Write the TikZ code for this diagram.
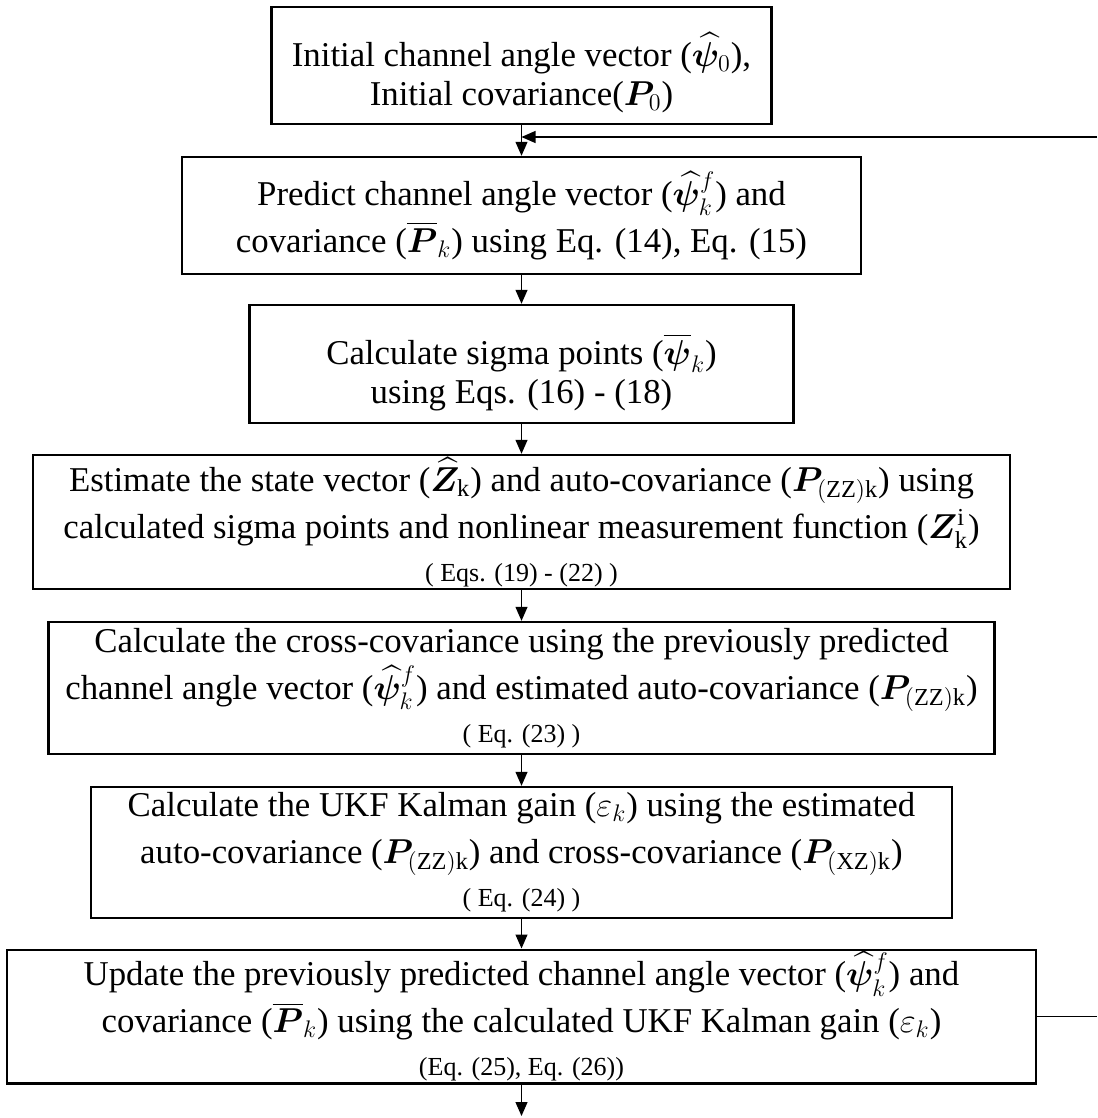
\documentclass[tikz,border=0pt]{standalone}
\usepackage{amsmath}
\usepackage{bm}
\usepackage{fontspec}
\setmainfont{Liberation Serif}
\usetikzlibrary{arrows.meta}

\newcommand{\eqnote}[1]{{\fontsize{13}{15}\selectfont #1}}

\begin{document}
\begin{tikzpicture}[x=0.5pt,y=-0.5pt,
  box/.style={draw,line width=1.2pt,align=center,inner ysep=1pt,font=\fontsize{17.4}{23.5}\selectfont},
  tight/.style={font=\fontsize{17.4}{19.5}\selectfont},
  arj/.style={line width=0.6pt,-{Triangle[length=7pt,width=6pt]}}]
  \useasboundingbox (0,0) rectangle (1097,1118);

  \node(initial)[box,tight,minimum width=250pt,minimum height=58.5pt] at (521.5,65.5)
    {\rule{0pt}{24.5pt}Initial channel angle vector ($\widehat{\bm{\psi}}_0$),\\Initial covariance($\bm{P}_0$)};
  \node(predict)[box,minimum width=339.5pt,minimum height=58.5pt] at (521.5,215.5)
    {Predict channel angle vector ($\widehat{\bm{\psi}}_k^f$) and\\covariance ($\overline{\bm{P}}_k$) using Eq. (14), Eq. (15)};
  \node(sigma)[box,tight,minimum width=272pt,minimum height=59pt] at (521.5,364)
    {\rule{0pt}{23.5pt}Calculate sigma points ($\overline{\bm{\psi}}_k$)\\using Eqs. (16) - (18)};
  \node(state)[box,minimum width=488.5pt,minimum height=67pt] at (521.5,522)
    {Estimate the state vector ($\widehat{\bm{Z}}_\mathrm{k}$) and auto-covariance ($\bm{P}_{\mathrm{(ZZ)k}}$) using\\
     calculated sigma points and nonlinear measurement function ($\bm{Z}_\mathrm{k}^\mathrm{i}$)\\[-2pt]
     \eqnote{( Eqs. (19) - (22) )}};
  \node(cross)[box,minimum width=473pt,minimum height=66pt] at (521.5,688)
    {Calculate the cross-covariance using the previously predicted\\
     channel angle vector ($\widehat{\bm{\psi}}_k^f$) and estimated auto-covariance ($\bm{P}_{\mathrm{(ZZ)k}}$)\\[-2pt]
     \eqnote{( Eq. (23) )}};
  \node(gain)[box,minimum width=430.5pt,minimum height=65.5pt] at (521.5,852.5)
    {Calculate the UKF Kalman gain ($\varepsilon_k$) using the estimated\\
     auto-covariance ($\bm{P}_{\mathrm{(ZZ)k}}$) and cross-covariance ($\bm{P}_{\mathrm{(XZ)k}}$)\\[-2pt]
     \eqnote{( Eq. (24) )}};
  \node(update)[box,minimum width=514.5pt,minimum height=65.5pt] at (521.5,1016.5)
    {Update the previously predicted channel angle vector ($\widehat{\bm{\psi}}_k^f$) and\\
     covariance ($\overline{\bm{P}}_k$) using the calculated UKF Kalman gain ($\varepsilon_k$)\\[-2pt]
     \eqnote{(Eq. (25), Eq. (26))}};

  \coordinate (loop in) at (1097,137);
  \coordinate (next) at (521.5,1116);

  \draw[arj] (initial) -- (predict);
  \draw[arj] (predict) -- (sigma);
  \draw[arj] (sigma) -- (state);
  \draw[arj] (state) -- (cross);
  \draw[arj] (cross) -- (gain);
  \draw[arj] (gain) -- (update);
  \draw[arj] (update) -- (next);

  % feedback to the next step
  \draw[line width=0.6pt] (update.east) -- (update.east -| loop in);
  \draw[arj] (loop in) -- (loop in -| initial.south);
\end{tikzpicture}
\end{document}
